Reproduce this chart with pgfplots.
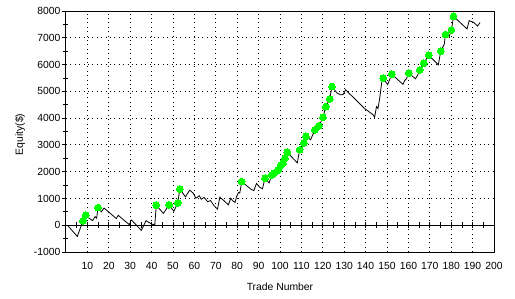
\documentclass[border=0pt]{standalone}
\usepackage{fontspec}
\setmainfont{Liberation Sans}
\usepackage{pgfplots}
\pgfplotsset{compat=1.18}
\definecolor{limeg}{RGB}{0,255,0}
\begin{document}
\begin{tikzpicture}
\path[use as bounding box] (-66bp,-47bp) rectangle (449bp,252bp);
\begin{axis}[
  scale only axis, width=428bp, height=241bp,
  xmin=0, xmax=200, ymin=-1000, ymax=8000,
  font=\fontsize{10.4}{12}\selectfont,
  /pgf/number format/assume math mode=true,
  /pgf/number format/1000 sep={},
  scaled ticks=false,
  xtick={10,20,...,200},
  ytick={-1000,0,...,8000},
  minor y tick num=1,
  grid=major,
  major grid style={black, line width=0.8bp, dash pattern=on 0.8bp off 3.6bp},
  axis line style={black, line width=1bp},
  tick align=outside,
  xtick pos=bottom, ytick pos=left,
  major tick length=4bp, minor tick length=5bp,
  tick style={black, line width=0.8bp},
  minor tick style={xshift=2.5bp},
  x tick style={draw=none},
  xticklabel style={yshift=-3bp},
  yticklabel style={xshift=2bp},
  xlabel={Trade Number}, ylabel={Equity(\$)},
  every axis x label/.style={at={(axis description cs:0.5,0)}, anchor=center, yshift=-35bp},
  every axis y label/.style={at={(axis description cs:0,0.5)}, xshift=-46bp, yshift=-3bp, rotate=90, anchor=center},
]
\addplot[black, line width=0.8bp, mark=none] coordinates {
(1,-30) (5.3,-420) (7.9,160) (9.2,380) (10.5,280) (12.4,170) (13.6,320) (14.3,260) (15,660)
(16.5,500) (17.8,640) (23.5,250) (24.4,370) (29.6,20) (30.5,200) (35.2,-190) (37.4,170)
(38.8,100) (40.5,30) (41.5,30) (42.2,750) (45.5,440) (48.2,760) (50.4,520) (52.2,830)
(53.2,1350) (55.8,1060) (57.8,1310) (59.4,1200) (60.7,1010) (62.3,1100) (63.2,970)
(64.5,1040) (66.2,880) (67.5,920) (69.2,730) (70.8,600) (71.9,1050) (74.3,880) (75.9,760)
(77,1010) (77.8,920) (79,850) (79.7,1070) (80.6,1220) (81.2,1200) (82.1,1630) (86.5,1340)
(87.8,1290) (89,1560) (90.5,1420) (91.8,1360) (93,1760) (94.9,1580) (96.1,1880) (97.2,1940)
(99.1,2060) (100.3,2240) (101.4,2320) (102.3,2500) (103.4,2720) (108.1,2330) (109.2,2820)
(111.2,3070) (112.1,3320) (114.3,3190) (116.3,3560) (118.2,3710) (120.1,4035) (121.4,4430)
(123.2,4710) (124.3,5180) (126.6,4940) (128.3,4870) (129.5,4880) (130.7,5060) (132.2,4930)
(134.5,4760) (139.2,4380) (143.6,4120) (144.2,4030) (145.1,4430) (145.8,4360) (146.6,4750)
(147.7,5430) (148.2,5490) (150.3,5250) (152.2,5640) (157.5,5260) (158.2,5400) (159.1,5470)
(160.2,5680) (163.3,5470) (164.3,5600) (165.3,5800) (167.2,6050) (169.5,6350) (174,5990)
(175.1,6500) (176.8,6770) (177.3,7120) (179,7030) (180.1,7290) (181.1,7800) (187.4,7330)
(188.4,7640) (190.4,7580) (192.3,7440) (193.5,7570)
};
\addplot[only marks, color=limeg, mark=*, mark size=3.4bp, mark options={fill=limeg, draw=limeg, line width=0pt}] coordinates {
(7.9,160) (9.2,380) (15,660) (42.2,750) (48.2,760) (52.2,830) (53.2,1350) (82.1,1630)
(93,1760) (96.1,1880) (97.2,1940) (99.1,2060) (100.3,2240) (101.4,2320) (102.3,2500)
(103.4,2720) (109.2,2820) (111.2,3070) (112.1,3320) (116.3,3560) (118.2,3710) (120.1,4035)
(121.4,4430) (123.2,4710) (124.3,5180) (148.2,5490) (152.2,5640) (160.2,5680) (165.3,5800)
(167.2,6050) (169.5,6350) (175.1,6500) (177.3,7120) (180.1,7290) (181.1,7800)
};
\end{axis}
\begin{axis}[
  scale only axis, width=428bp, height=241bp,
  xmin=0, xmax=200, ymin=-1000, ymax=8000,
  axis x line=middle, axis y line=none,
  axis line style={-, black, line width=1bp},
  xtick={5,10,...,195}, xticklabels={},
  tick align=center, major tick length=6bp,
  tick style={black, line width=0.8bp},
]
\end{axis}
\end{tikzpicture}
\end{document}
